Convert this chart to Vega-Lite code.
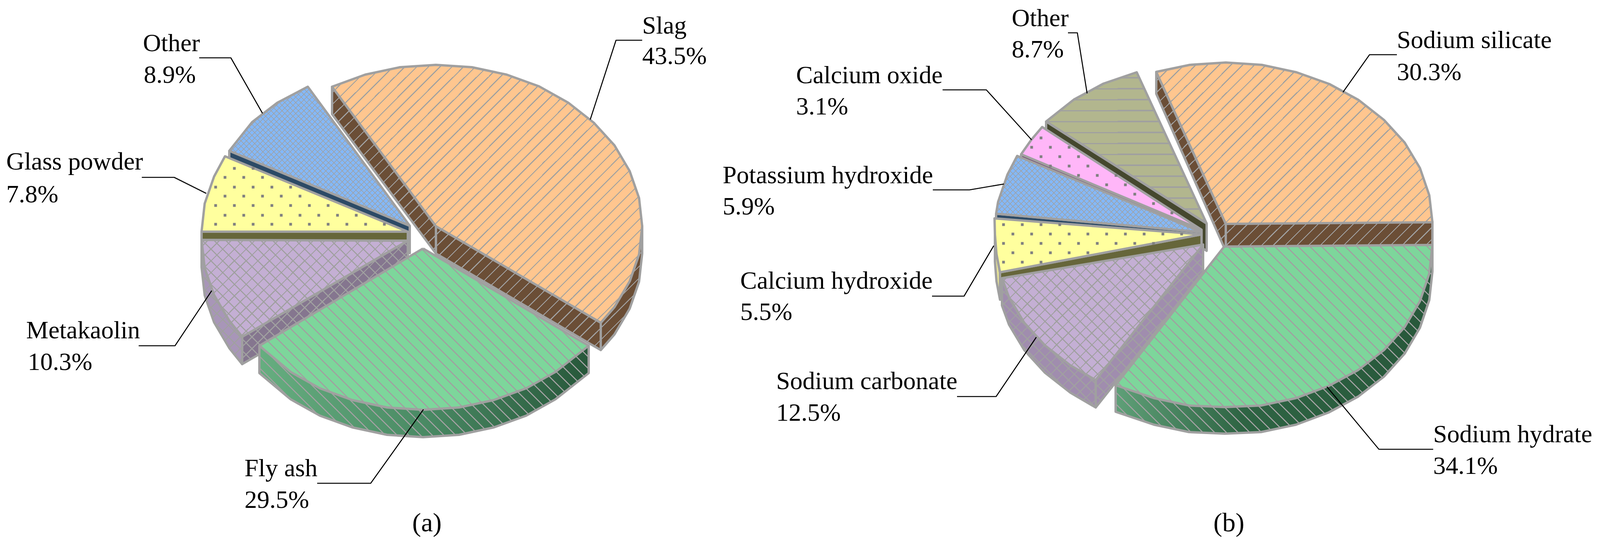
{"$schema":"https://vega.github.io/schema/vega-lite/v6.json","width":4103,"height":1395,"padding":0,"autosize":{"type":"none"},"background":"white","view":{"stroke":null},"config":{"line":{"stroke":"#A0A0A0","strokeWidth":6,"strokeJoin":"round"},"text":{"font":"Liberation Serif","fontSize":64,"align":"left","baseline":"alphabetic","fill":"black"}},
"params":[{"name":"st","value":[
{"offset":0.14,"color":"#a0a0a000"},{"offset":0.14,"color":"#a0a0a0"},{"offset":0.1416,"color":"#a0a0a0"},{"offset":0.1416,"color":"#a0a0a000"},
{"offset":0.1525,"color":"#a0a0a000"},{"offset":0.1525,"color":"#a0a0a0"},{"offset":0.1541,"color":"#a0a0a0"},{"offset":0.1541,"color":"#a0a0a000"},
{"offset":0.165,"color":"#a0a0a000"},{"offset":0.165,"color":"#a0a0a0"},{"offset":0.1666,"color":"#a0a0a0"},{"offset":0.1666,"color":"#a0a0a000"},
{"offset":0.1775,"color":"#a0a0a000"},{"offset":0.1775,"color":"#a0a0a0"},{"offset":0.1791,"color":"#a0a0a0"},{"offset":0.1791,"color":"#a0a0a000"},
{"offset":0.19,"color":"#a0a0a000"},{"offset":0.19,"color":"#a0a0a0"},{"offset":0.1916,"color":"#a0a0a0"},{"offset":0.1916,"color":"#a0a0a000"},
{"offset":0.2025,"color":"#a0a0a000"},{"offset":0.2025,"color":"#a0a0a0"},{"offset":0.2041,"color":"#a0a0a0"},{"offset":0.2041,"color":"#a0a0a000"},
{"offset":0.215,"color":"#a0a0a000"},{"offset":0.215,"color":"#a0a0a0"},{"offset":0.2166,"color":"#a0a0a0"},{"offset":0.2166,"color":"#a0a0a000"},
{"offset":0.2275,"color":"#a0a0a000"},{"offset":0.2275,"color":"#a0a0a0"},{"offset":0.2291,"color":"#a0a0a0"},{"offset":0.2291,"color":"#a0a0a000"},
{"offset":0.24,"color":"#a0a0a000"},{"offset":0.24,"color":"#a0a0a0"},{"offset":0.2416,"color":"#a0a0a0"},{"offset":0.2416,"color":"#a0a0a000"},
{"offset":0.2525,"color":"#a0a0a000"},{"offset":0.2525,"color":"#a0a0a0"},{"offset":0.2541,"color":"#a0a0a0"},{"offset":0.2541,"color":"#a0a0a000"},
{"offset":0.265,"color":"#a0a0a000"},{"offset":0.265,"color":"#a0a0a0"},{"offset":0.2666,"color":"#a0a0a0"},{"offset":0.2666,"color":"#a0a0a000"},
{"offset":0.2775,"color":"#a0a0a000"},{"offset":0.2775,"color":"#a0a0a0"},{"offset":0.2791,"color":"#a0a0a0"},{"offset":0.2791,"color":"#a0a0a000"},
{"offset":0.29,"color":"#a0a0a000"},{"offset":0.29,"color":"#a0a0a0"},{"offset":0.2916,"color":"#a0a0a0"},{"offset":0.2916,"color":"#a0a0a000"},
{"offset":0.3025,"color":"#a0a0a000"},{"offset":0.3025,"color":"#a0a0a0"},{"offset":0.3041,"color":"#a0a0a0"},{"offset":0.3041,"color":"#a0a0a000"},
{"offset":0.315,"color":"#a0a0a000"},{"offset":0.315,"color":"#a0a0a0"},{"offset":0.3166,"color":"#a0a0a0"},{"offset":0.3166,"color":"#a0a0a000"},
{"offset":0.3275,"color":"#a0a0a000"},{"offset":0.3275,"color":"#a0a0a0"},{"offset":0.3291,"color":"#a0a0a0"},{"offset":0.3291,"color":"#a0a0a000"},
{"offset":0.34,"color":"#a0a0a000"},{"offset":0.34,"color":"#a0a0a0"},{"offset":0.3416,"color":"#a0a0a0"},{"offset":0.3416,"color":"#a0a0a000"},
{"offset":0.3525,"color":"#a0a0a000"},{"offset":0.3525,"color":"#a0a0a0"},{"offset":0.3541,"color":"#a0a0a0"},{"offset":0.3541,"color":"#a0a0a000"},
{"offset":0.365,"color":"#a0a0a000"},{"offset":0.365,"color":"#a0a0a0"},{"offset":0.3666,"color":"#a0a0a0"},{"offset":0.3666,"color":"#a0a0a000"},
{"offset":0.3775,"color":"#a0a0a000"},{"offset":0.3775,"color":"#a0a0a0"},{"offset":0.3791,"color":"#a0a0a0"},{"offset":0.3791,"color":"#a0a0a000"},
{"offset":0.39,"color":"#a0a0a000"},{"offset":0.39,"color":"#a0a0a0"},{"offset":0.3916,"color":"#a0a0a0"},{"offset":0.3916,"color":"#a0a0a000"},
{"offset":0.4025,"color":"#a0a0a000"},{"offset":0.4025,"color":"#a0a0a0"},{"offset":0.4041,"color":"#a0a0a0"},{"offset":0.4041,"color":"#a0a0a000"},
{"offset":0.415,"color":"#a0a0a000"},{"offset":0.415,"color":"#a0a0a0"},{"offset":0.4166,"color":"#a0a0a0"},{"offset":0.4166,"color":"#a0a0a000"},
{"offset":0.4275,"color":"#a0a0a000"},{"offset":0.4275,"color":"#a0a0a0"},{"offset":0.4291,"color":"#a0a0a0"},{"offset":0.4291,"color":"#a0a0a000"},
{"offset":0.44,"color":"#a0a0a000"},{"offset":0.44,"color":"#a0a0a0"},{"offset":0.4416,"color":"#a0a0a0"},{"offset":0.4416,"color":"#a0a0a000"},
{"offset":0.4525,"color":"#a0a0a000"},{"offset":0.4525,"color":"#a0a0a0"},{"offset":0.4541,"color":"#a0a0a0"},{"offset":0.4541,"color":"#a0a0a000"},
{"offset":0.465,"color":"#a0a0a000"},{"offset":0.465,"color":"#a0a0a0"},{"offset":0.4666,"color":"#a0a0a0"},{"offset":0.4666,"color":"#a0a0a000"},
{"offset":0.4775,"color":"#a0a0a000"},{"offset":0.4775,"color":"#a0a0a0"},{"offset":0.4791,"color":"#a0a0a0"},{"offset":0.4791,"color":"#a0a0a000"},
{"offset":0.49,"color":"#a0a0a000"},{"offset":0.49,"color":"#a0a0a0"},{"offset":0.4916,"color":"#a0a0a0"},{"offset":0.4916,"color":"#a0a0a000"},
{"offset":0.5025,"color":"#a0a0a000"},{"offset":0.5025,"color":"#a0a0a0"},{"offset":0.5041,"color":"#a0a0a0"},{"offset":0.5041,"color":"#a0a0a000"},
{"offset":0.515,"color":"#a0a0a000"},{"offset":0.515,"color":"#a0a0a0"},{"offset":0.5166,"color":"#a0a0a0"},{"offset":0.5166,"color":"#a0a0a000"},
{"offset":0.5275,"color":"#a0a0a000"},{"offset":0.5275,"color":"#a0a0a0"},{"offset":0.5291,"color":"#a0a0a0"},{"offset":0.5291,"color":"#a0a0a000"},
{"offset":0.54,"color":"#a0a0a000"},{"offset":0.54,"color":"#a0a0a0"},{"offset":0.5416,"color":"#a0a0a0"},{"offset":0.5416,"color":"#a0a0a000"},
{"offset":0.5525,"color":"#a0a0a000"},{"offset":0.5525,"color":"#a0a0a0"},{"offset":0.5541,"color":"#a0a0a0"},{"offset":0.5541,"color":"#a0a0a000"},
{"offset":0.565,"color":"#a0a0a000"},{"offset":0.565,"color":"#a0a0a0"},{"offset":0.5666,"color":"#a0a0a0"},{"offset":0.5666,"color":"#a0a0a000"},
{"offset":0.5775,"color":"#a0a0a000"},{"offset":0.5775,"color":"#a0a0a0"},{"offset":0.5791,"color":"#a0a0a0"},{"offset":0.5791,"color":"#a0a0a000"},
{"offset":0.59,"color":"#a0a0a000"},{"offset":0.59,"color":"#a0a0a0"},{"offset":0.5916,"color":"#a0a0a0"},{"offset":0.5916,"color":"#a0a0a000"},
{"offset":0.6025,"color":"#a0a0a000"},{"offset":0.6025,"color":"#a0a0a0"},{"offset":0.6041,"color":"#a0a0a0"},{"offset":0.6041,"color":"#a0a0a000"},
{"offset":0.615,"color":"#a0a0a000"},{"offset":0.615,"color":"#a0a0a0"},{"offset":0.6166,"color":"#a0a0a0"},{"offset":0.6166,"color":"#a0a0a000"},
{"offset":0.6275,"color":"#a0a0a000"},{"offset":0.6275,"color":"#a0a0a0"},{"offset":0.6291,"color":"#a0a0a0"},{"offset":0.6291,"color":"#a0a0a000"},
{"offset":0.64,"color":"#a0a0a000"},{"offset":0.64,"color":"#a0a0a0"},{"offset":0.6416,"color":"#a0a0a0"},{"offset":0.6416,"color":"#a0a0a000"},
{"offset":0.6525,"color":"#a0a0a000"},{"offset":0.6525,"color":"#a0a0a0"},{"offset":0.6541,"color":"#a0a0a0"},{"offset":0.6541,"color":"#a0a0a000"},
{"offset":0.665,"color":"#a0a0a000"},{"offset":0.665,"color":"#a0a0a0"},{"offset":0.6666,"color":"#a0a0a0"},{"offset":0.6666,"color":"#a0a0a000"},
{"offset":0.6775,"color":"#a0a0a000"},{"offset":0.6775,"color":"#a0a0a0"},{"offset":0.6791,"color":"#a0a0a0"},{"offset":0.6791,"color":"#a0a0a000"},
{"offset":0.69,"color":"#a0a0a000"},{"offset":0.69,"color":"#a0a0a0"},{"offset":0.6916,"color":"#a0a0a0"},{"offset":0.6916,"color":"#a0a0a000"},
{"offset":0.7025,"color":"#a0a0a000"},{"offset":0.7025,"color":"#a0a0a0"},{"offset":0.7041,"color":"#a0a0a0"},{"offset":0.7041,"color":"#a0a0a000"},
{"offset":0.715,"color":"#a0a0a000"},{"offset":0.715,"color":"#a0a0a0"},{"offset":0.7166,"color":"#a0a0a0"},{"offset":0.7166,"color":"#a0a0a000"},
{"offset":0.7275,"color":"#a0a0a000"},{"offset":0.7275,"color":"#a0a0a0"},{"offset":0.7291,"color":"#a0a0a0"},{"offset":0.7291,"color":"#a0a0a000"},
{"offset":0.74,"color":"#a0a0a000"},{"offset":0.74,"color":"#a0a0a0"},{"offset":0.7416,"color":"#a0a0a0"},{"offset":0.7416,"color":"#a0a0a000"},
{"offset":0.7525,"color":"#a0a0a000"},{"offset":0.7525,"color":"#a0a0a0"},{"offset":0.7541,"color":"#a0a0a0"},{"offset":0.7541,"color":"#a0a0a000"},
{"offset":0.765,"color":"#a0a0a000"},{"offset":0.765,"color":"#a0a0a0"},{"offset":0.7666,"color":"#a0a0a0"},{"offset":0.7666,"color":"#a0a0a000"},
{"offset":0.7775,"color":"#a0a0a000"},{"offset":0.7775,"color":"#a0a0a0"},{"offset":0.7791,"color":"#a0a0a0"},{"offset":0.7791,"color":"#a0a0a000"},
{"offset":0.79,"color":"#a0a0a000"},{"offset":0.79,"color":"#a0a0a0"},{"offset":0.7916,"color":"#a0a0a0"},{"offset":0.7916,"color":"#a0a0a000"},
{"offset":0.8025,"color":"#a0a0a000"},{"offset":0.8025,"color":"#a0a0a0"},{"offset":0.8041,"color":"#a0a0a0"},{"offset":0.8041,"color":"#a0a0a000"},
{"offset":0.815,"color":"#a0a0a000"},{"offset":0.815,"color":"#a0a0a0"},{"offset":0.8166,"color":"#a0a0a0"},{"offset":0.8166,"color":"#a0a0a000"},
{"offset":0.8275,"color":"#a0a0a000"},{"offset":0.8275,"color":"#a0a0a0"},{"offset":0.8291,"color":"#a0a0a0"},{"offset":0.8291,"color":"#a0a0a000"},
{"offset":0.84,"color":"#a0a0a000"},{"offset":0.84,"color":"#a0a0a0"},{"offset":0.8416,"color":"#a0a0a0"},{"offset":0.8416,"color":"#a0a0a000"},
{"offset":0.8525,"color":"#a0a0a000"},{"offset":0.8525,"color":"#a0a0a0"},{"offset":0.8541,"color":"#a0a0a0"},{"offset":0.8541,"color":"#a0a0a000"}
]},
{"name":"up","expr":"{gradient:'linear',x1:0,y1:0,x2:1,y2:1,stops:st}"},
{"name":"dn","expr":"{gradient:'linear',x1:1,y1:0,x2:0.0001,y2:1,stops:st}"},
{"name":"hz","expr":"{gradient:'linear',x1:0,y1:0,x2:0.0001,y2:1,stops:st}"}],
"datasets":{"faces":[
{"f":"a1w","x":587,"y":386},{"f":"a1w","x":587,"y":456},{"f":"a1w","x":1049,"y":648},{"f":"a1w","x":1049,"y":578},{"f":"a1w","x":587,"y":386},
{"f":"a1","x":1049,"y":578},{"f":"a1","x":788,"y":222},{"f":"a1","x":710,"y":263},{"f":"a1","x":645,"y":313},{"f":"a1","x":587,"y":386},{"f":"a1","x":1049,"y":578},
{"f":"a2w","x":516,"y":593},{"f":"a2w","x":1044,"y":593},{"f":"a2w","x":1044,"y":663},{"f":"a2w","x":516,"y":663},{"f":"a2w","x":516,"y":593},
{"f":"a2","x":1044,"y":593},{"f":"a2","x":576,"y":400},{"f":"a2","x":548,"y":452},{"f":"a2","x":524,"y":521},{"f":"a2","x":516,"y":593},{"f":"a2","x":1044,"y":593},
{"f":"a3o","x":516,"y":614},{"f":"a3o","x":524,"y":686},{"f":"a3o","x":548,"y":755},{"f":"a3o","x":587,"y":821},{"f":"a3o","x":620,"y":862},{"f":"a3o","x":620,"y":932},{"f":"a3o","x":587,"y":891},{"f":"a3o","x":548,"y":825},{"f":"a3o","x":524,"y":756},{"f":"a3o","x":516,"y":684},{"f":"a3o","x":516,"y":614},
{"f":"a3c","x":1044,"y":616},{"f":"a3c","x":620,"y":862},{"f":"a3c","x":620,"y":932},{"f":"a3c","x":1044,"y":686},{"f":"a3c","x":1044,"y":616},
{"f":"a3","x":1044,"y":616},{"f":"a3","x":516,"y":614},{"f":"a3","x":524,"y":686},{"f":"a3","x":548,"y":755},{"f":"a3","x":587,"y":821},{"f":"a3","x":620,"y":862},{"f":"a3","x":1044,"y":616},
{"f":"a4w","x":850,"y":222},{"f":"a4w","x":850,"y":292},{"f":"a4w","x":1116,"y":649},{"f":"a4w","x":1116,"y":579},{"f":"a4w","x":1116,"y":649},{"f":"a4w","x":1538,"y":896},{"f":"a4w","x":1538,"y":826},{"f":"a4w","x":1538,"y":896},{"f":"a4w","x":1573,"y":856},{"f":"a4w","x":1612,"y":790},{"f":"a4w","x":1636,"y":721},{"f":"a4w","x":1644,"y":649},{"f":"a4w","x":1644,"y":579},{"f":"a4w","x":1636,"y":651},{"f":"a4w","x":1612,"y":720},{"f":"a4w","x":1573,"y":786},{"f":"a4w","x":1538,"y":826},{"f":"a4w","x":1116,"y":579},{"f":"a4w","x":850,"y":222},
{"f":"a4","x":1116,"y":579},{"f":"a4","x":850,"y":222},{"f":"a4","x":935,"y":191},{"f":"a4","x":1024,"y":172},{"f":"a4","x":1116,"y":166},{"f":"a4","x":1208,"y":172},{"f":"a4","x":1297,"y":191},{"f":"a4","x":1380,"y":221},{"f":"a4","x":1455,"y":263},{"f":"a4","x":1520,"y":314},{"f":"a4","x":1573,"y":372},{"f":"a4","x":1612,"y":438},{"f":"a4","x":1636,"y":507},{"f":"a4","x":1644,"y":579},{"f":"a4","x":1636,"y":651},{"f":"a4","x":1612,"y":720},{"f":"a4","x":1573,"y":786},{"f":"a4","x":1538,"y":826},{"f":"a4","x":1116,"y":579},
{"f":"a5w","x":664,"y":885},{"f":"a5w","x":664,"y":955},{"f":"a5w","x":744,"y":1022},{"f":"a5w","x":819,"y":1064},{"f":"a5w","x":902,"y":1094},{"f":"a5w","x":991,"y":1113},{"f":"a5w","x":1083,"y":1119},{"f":"a5w","x":1175,"y":1113},{"f":"a5w","x":1264,"y":1094},{"f":"a5w","x":1347,"y":1064},{"f":"a5w","x":1422,"y":1022},{"f":"a5w","x":1507,"y":955},{"f":"a5w","x":1507,"y":885},{"f":"a5w","x":664,"y":885},
{"f":"a5","x":1083,"y":636},{"f":"a5","x":1507,"y":885},{"f":"a5","x":1422,"y":952},{"f":"a5","x":1347,"y":994},{"f":"a5","x":1264,"y":1024},{"f":"a5","x":1175,"y":1043},{"f":"a5","x":1083,"y":1049},{"f":"a5","x":991,"y":1043},{"f":"a5","x":902,"y":1024},{"f":"a5","x":819,"y":994},{"f":"a5","x":744,"y":952},{"f":"a5","x":664,"y":885},{"f":"a5","x":1083,"y":636},
{"f":"b1w","x":2678,"y":311},{"f":"b1w","x":2678,"y":381},{"f":"b1w","x":3089,"y":642},{"f":"b1w","x":3089,"y":572},{"f":"b1w","x":2678,"y":311},
{"f":"b1","x":3089,"y":572},{"f":"b1","x":2910,"y":185},{"f":"b1","x":2825,"y":214},{"f":"b1","x":2749,"y":255},{"f":"b1","x":2678,"y":311},{"f":"b1","x":3089,"y":572},
{"f":"b2w","x":2614,"y":395},{"f":"b2w","x":2614,"y":465},{"f":"b2w","x":3076,"y":658},{"f":"b2w","x":3076,"y":588},{"f":"b2w","x":2614,"y":395},
{"f":"b2","x":3076,"y":588},{"f":"b2","x":2668,"y":325},{"f":"b2","x":2640,"y":358},{"f":"b2","x":2614,"y":395},{"f":"b2","x":3076,"y":588},
{"f":"b3w","x":2550,"y":547},{"f":"b3w","x":2550,"y":617},{"f":"b3w","x":3076,"y":664},{"f":"b3w","x":3076,"y":594},{"f":"b3w","x":2550,"y":547},
{"f":"b3","x":3076,"y":594},{"f":"b3","x":2604,"y":399},{"f":"b3","x":2579,"y":447},{"f":"b3","x":2555,"y":517},{"f":"b3","x":2550,"y":547},{"f":"b3","x":3076,"y":594},
{"f":"b4o","x":2547,"y":600},{"f":"b4o","x":2551,"y":650},{"f":"b4o","x":2560,"y":697},{"f":"b4o","x":2560,"y":767},{"f":"b4o","x":2551,"y":720},{"f":"b4o","x":2547,"y":670},{"f":"b4o","x":2547,"y":600},
{"f":"b4c","x":2560,"y":697},{"f":"b4c","x":3076,"y":600},{"f":"b4c","x":3076,"y":670},{"f":"b4c","x":2560,"y":767},{"f":"b4c","x":2560,"y":697},
{"f":"b4","x":3076,"y":600},{"f":"b4","x":2546,"y":559},{"f":"b4","x":2547,"y":600},{"f":"b4","x":2551,"y":650},{"f":"b4","x":2560,"y":697},{"f":"b4","x":3076,"y":600},
{"f":"b5w","x":2565,"y":712},{"f":"b5w","x":2565,"y":782},{"f":"b5w","x":2583,"y":831},{"f":"b5w","x":2622,"y":896},{"f":"b5w","x":2675,"y":954},{"f":"b5w","x":2740,"y":1005},{"f":"b5w","x":2805,"y":1043},{"f":"b5w","x":3080,"y":696},{"f":"b5w","x":3080,"y":626},{"f":"b5w","x":2805,"y":973},{"f":"b5w","x":2805,"y":1043},{"f":"b5w","x":2805,"y":973},{"f":"b5w","x":2740,"y":935},{"f":"b5w","x":2675,"y":884},{"f":"b5w","x":2622,"y":826},{"f":"b5w","x":2583,"y":761},{"f":"b5w","x":2565,"y":712},
{"f":"b5","x":3080,"y":626},{"f":"b5","x":2565,"y":712},{"f":"b5","x":2583,"y":761},{"f":"b5","x":2622,"y":826},{"f":"b5","x":2675,"y":884},{"f":"b5","x":2740,"y":935},{"f":"b5","x":2805,"y":973},{"f":"b5","x":3080,"y":626},
{"f":"b6w","x":2960,"y":184},{"f":"b6w","x":2960,"y":240},{"f":"b6w","x":3138,"y":643},{"f":"b6w","x":3138,"y":573},{"f":"b6w","x":3138,"y":643},{"f":"b6w","x":3667,"y":638},{"f":"b6w","x":3667,"y":568},{"f":"b6w","x":3138,"y":573},{"f":"b6w","x":2960,"y":184},
{"f":"b6","x":3138,"y":573},{"f":"b6","x":2960,"y":184},{"f":"b6","x":3046,"y":166},{"f":"b6","x":3138,"y":160},{"f":"b6","x":3230,"y":166},{"f":"b6","x":3319,"y":185},{"f":"b6","x":3403,"y":215},{"f":"b6","x":3478,"y":256},{"f":"b6","x":3543,"y":307},{"f":"b6","x":3596,"y":365},{"f":"b6","x":3635,"y":430},{"f":"b6","x":3659,"y":500},{"f":"b6","x":3667,"y":569},{"f":"b6","x":3138,"y":573},
{"f":"b7w","x":2856,"y":986},{"f":"b7w","x":2856,"y":1054},{"f":"b7w","x":2954,"y":1087},{"f":"b7w","x":3044,"y":1106},{"f":"b7w","x":3136,"y":1110},{"f":"b7w","x":3228,"y":1106},{"f":"b7w","x":3318,"y":1087},{"f":"b7w","x":3401,"y":1056},{"f":"b7w","x":3477,"y":1015},{"f":"b7w","x":3543,"y":964},{"f":"b7w","x":3596,"y":905},{"f":"b7w","x":3635,"y":839},{"f":"b7w","x":3659,"y":768},{"f":"b7w","x":3667,"y":695},{"f":"b7w","x":3667,"y":627},{"f":"b7w","x":2856,"y":986},
{"f":"b7","x":3134,"y":631},{"f":"b7","x":3667,"y":627},{"f":"b7","x":3659,"y":700},{"f":"b7","x":3635,"y":771},{"f":"b7","x":3596,"y":837},{"f":"b7","x":3543,"y":896},{"f":"b7","x":3477,"y":947},{"f":"b7","x":3401,"y":988},{"f":"b7","x":3318,"y":1019},{"f":"b7","x":3228,"y":1038},{"f":"b7","x":3136,"y":1042},{"f":"b7","x":3044,"y":1038},{"f":"b7","x":2954,"y":1019},{"f":"b7","x":2856,"y":986},{"f":"b7","x":3134,"y":631},
{"f":"A","x":480,"y":60},{"f":"A","x":1680,"y":1260},{"f":"A","x":480,"y":60},
{"f":"B","x":2510,"y":20},{"f":"B","x":3710,"y":1220},{"f":"B","x":2510,"y":20},
{"f":"C","x":540,"y":140},{"f":"C","x":1100,"y":700},{"f":"C","x":540,"y":140},
{"f":"D","x":2530,"y":210},{"f":"D","x":3090,"y":770},{"f":"D","x":2530,"y":210},
{"f":"E","x":2900,"y":-200},{"f":"E","x":2900,"y":2040},{"f":"E","x":2900,"y":-200}
],
"dots":[
{"x":600,"y":431},{"x":648,"y":431},{"x":576,"y":454},{"x":624,"y":454},{"x":672,"y":454},
{"x":552,"y":479},{"x":600,"y":479},{"x":648,"y":479},{"x":696,"y":479},{"x":744,"y":479},
{"x":576,"y":502},{"x":624,"y":502},{"x":672,"y":502},{"x":720,"y":502},{"x":768,"y":502},
{"x":552,"y":526},{"x":600,"y":526},{"x":648,"y":526},{"x":696,"y":526},{"x":744,"y":526},{"x":792,"y":526},{"x":840,"y":526},
{"x":576,"y":551},{"x":624,"y":551},{"x":672,"y":551},{"x":720,"y":551},{"x":768,"y":551},{"x":816,"y":551},{"x":864,"y":551},{"x":912,"y":551},
{"x":552,"y":574},{"x":600,"y":574},{"x":648,"y":574},{"x":696,"y":574},{"x":744,"y":574},{"x":792,"y":574},{"x":840,"y":574},{"x":888,"y":574},{"x":936,"y":574},{"x":984,"y":574},
{"x":2569,"y":575},{"x":2617,"y":575},{"x":2665,"y":575},{"x":2713,"y":575},
{"x":2593,"y":599},{"x":2641,"y":599},{"x":2689,"y":599},{"x":2737,"y":599},{"x":2785,"y":599},{"x":2833,"y":599},{"x":2881,"y":599},{"x":2929,"y":599},{"x":2977,"y":599},{"x":3025,"y":599},
{"x":2569,"y":623},{"x":2617,"y":623},{"x":2665,"y":623},{"x":2713,"y":623},{"x":2761,"y":623},{"x":2809,"y":623},{"x":2857,"y":623},{"x":2905,"y":623},{"x":2953,"y":623},
{"x":2593,"y":647},{"x":2641,"y":647},{"x":2689,"y":647},{"x":2737,"y":647},{"x":2785,"y":647},
{"x":2569,"y":671},{"x":2617,"y":671},{"x":2665,"y":671},
{"x":2665,"y":353},{"x":2641,"y":377},{"x":2689,"y":377},{"x":2737,"y":377},{"x":2665,"y":401},{"x":2713,"y":401},{"x":2761,"y":401},{"x":2689,"y":425},{"x":2737,"y":425},{"x":2785,"y":425},{"x":2761,"y":449},{"x":2809,"y":449},{"x":2857,"y":449},{"x":2833,"y":473},{"x":2881,"y":473},{"x":2905,"y":497},{"x":2953,"y":521},{"x":3000,"y":545}
],
"leaders":[
{"l":"slag","x":1644,"y":103},{"l":"slag","x":1577,"y":103},{"l":"slag","x":1511,"y":306},
{"l":"otha","x":510,"y":148},{"l":"otha","x":591,"y":148},{"l":"otha","x":672,"y":290},
{"l":"glass","x":363,"y":454},{"l":"glass","x":446,"y":454},{"l":"glass","x":528,"y":495},
{"l":"meta","x":355,"y":885},{"l":"meta","x":448,"y":885},{"l":"meta","x":542,"y":744},
{"l":"fly","x":812,"y":1237},{"l":"fly","x":949,"y":1237},{"l":"fly","x":1084,"y":1048},
{"l":"sil","x":3576,"y":140},{"l":"sil","x":3506,"y":140},{"l":"sil","x":3438,"y":236},
{"l":"othb","x":2734,"y":84},{"l":"othb","x":2758,"y":84},{"l":"othb","x":2783,"y":239},
{"l":"cao","x":2413,"y":230},{"l":"cao","x":2525,"y":230},{"l":"cao","x":2641,"y":358},
{"l":"koh","x":2388,"y":486},{"l":"koh","x":2482,"y":486},{"l":"koh","x":2570,"y":471},
{"l":"caoh","x":2386,"y":758},{"l":"caoh","x":2468,"y":758},{"l":"caoh","x":2544,"y":629},
{"l":"carb","x":2450,"y":1015},{"l":"carb","x":2550,"y":1015},{"l":"carb","x":2653,"y":863},
{"l":"hyd","x":3669,"y":1150},{"l":"hyd","x":3530,"y":1150},{"l":"hyd","x":3397,"y":990}
],
"notes":[
{"t":"Slag","x":1644,"y":86},{"t":"43.5%","x":1644,"y":164},
{"t":"Other","x":366,"y":131},{"t":"8.9%","x":368,"y":212},
{"t":"Glass powder","x":16,"y":434},{"t":"7.8%","x":16,"y":518},
{"t":"Metakaolin","x":67,"y":866},{"t":"10.3%","x":71,"y":947},
{"t":"Fly ash","x":626,"y":1219},{"t":"29.5%","x":626,"y":1300},
{"t":"Sodium silicate","x":3576,"y":123},{"t":"30.3%","x":3576,"y":205},
{"t":"Other","x":2590,"y":67},{"t":"8.7%","x":2590,"y":147},
{"t":"Calcium oxide","x":2038,"y":213},{"t":"3.1%","x":2038,"y":293},
{"t":"Potassium hydroxide","x":1850,"y":469},{"t":"5.9%","x":1850,"y":549},
{"t":"Calcium hydroxide","x":1895,"y":739},{"t":"5.5%","x":1895,"y":819},
{"t":"Sodium carbonate","x":1987,"y":996},{"t":"12.5%","x":1987,"y":1077},
{"t":"Sodium hydrate","x":3669,"y":1132},{"t":"34.1%","x":3669,"y":1213}
],
"captions":[{"t":"(a)","x":1093,"y":1360},{"t":"(b)","x":3146,"y":1360}]},
"data":{"name":"faces"},
"encoding":{"x":{"field":"x","type":"quantitative","scale":{"domain":[0,4103],"nice":false,"zero":false},"axis":null},"y":{"field":"y","type":"quantitative","scale":{"domain":[1395,0],"nice":false,"zero":false},"axis":null},"order":{"value":null}},
"layer":[
{"transform":[{"filter":"datum.f=='a1w'"}],"mark":{"type":"line","fill":"#2C4A66"}},
{"transform":[{"filter":"datum.f=='a1'"}],"mark":{"type":"line","fill":"#84B8F8"}},
{"transform":[{"filter":"datum.f=='a1'||datum.f=='C'"}],"mark":{"type":"line","fill":{"expr":"up"},"strokeWidth":0}},
{"transform":[{"filter":"datum.f=='a1'||datum.f=='C'"}],"mark":{"type":"line","fill":{"expr":"dn"},"strokeWidth":0}},
{"transform":[{"filter":"datum.f=='a2w'"}],"mark":{"type":"line","fill":"#66663A"}},
{"transform":[{"filter":"datum.f=='a2'"}],"mark":{"type":"line","fill":"#FFFF9E"}},
{"transform":[{"filter":"datum.f=='a3o'"}],"mark":{"type":"line","fill":"#A896B8"}},
{"transform":[{"filter":"datum.f=='a3o'||datum.f=='A'"}],"mark":{"type":"line","fill":{"expr":"up"},"strokeWidth":0}},
{"transform":[{"filter":"datum.f=='a3o'||datum.f=='A'"}],"mark":{"type":"line","fill":{"expr":"dn"},"strokeWidth":0}},
{"transform":[{"filter":"datum.f=='a3c'"}],"mark":{"type":"line","fill":"#85768F"}},
{"transform":[{"filter":"datum.f=='a3c'||datum.f=='A'"}],"mark":{"type":"line","fill":{"expr":"up"},"strokeWidth":0}},
{"transform":[{"filter":"datum.f=='a3c'||datum.f=='A'"}],"mark":{"type":"line","fill":{"expr":"dn"},"strokeWidth":0}},
{"transform":[{"filter":"datum.f=='a3'"}],"mark":{"type":"line","fill":"#C4AFD4"}},
{"transform":[{"filter":"datum.f=='a3'||datum.f=='A'"}],"mark":{"type":"line","fill":{"expr":"up"},"strokeWidth":0}},
{"transform":[{"filter":"datum.f=='a3'||datum.f=='A'"}],"mark":{"type":"line","fill":{"expr":"dn"},"strokeWidth":0}},
{"transform":[{"filter":"datum.f=='a4w'"}],"mark":{"type":"line","fill":"#6B4E36"}},
{"transform":[{"filter":"datum.f=='a4w'||datum.f=='A'"}],"mark":{"type":"line","fill":{"expr":"up"},"strokeWidth":0}},
{"transform":[{"filter":"datum.f=='a4'"}],"mark":{"type":"line","fill":"#FFC68F"}},
{"transform":[{"filter":"datum.f=='a4'||datum.f=='A'"}],"mark":{"type":"line","fill":{"expr":"up"},"strokeWidth":0}},
{"transform":[{"filter":"datum.f=='a5w'"}],"mark":{"type":"line","fill":{"gradient":"linear","x1":0,"y1":0,"x2":1,"y2":0,"stops":[{"offset":0,"color":"#66AE80"},{"offset":0.5,"color":"#4A8A64"},{"offset":1,"color":"#27573A"}]}}},
{"transform":[{"filter":"datum.f=='a5w'||datum.f=='A'"}],"mark":{"type":"line","fill":{"expr":"dn"},"strokeWidth":0}},
{"transform":[{"filter":"datum.f=='a5'"}],"mark":{"type":"line","fill":"#7DD69B"}},
{"transform":[{"filter":"datum.f=='a5'||datum.f=='A'"}],"mark":{"type":"line","fill":{"expr":"dn"},"strokeWidth":0}},
{"transform":[{"filter":"datum.f=='b1w'"}],"mark":{"type":"line","fill":"#45482E"}},
{"transform":[{"filter":"datum.f=='b1'"}],"mark":{"type":"line","fill":"#B2B68E"}},
{"transform":[{"filter":"datum.f=='b1'||datum.f=='E'"}],"mark":{"type":"line","fill":{"expr":"hz"},"strokeWidth":0}},
{"transform":[{"filter":"datum.f=='b2w'"}],"mark":{"type":"line","fill":"#6B3A68"}},
{"transform":[{"filter":"datum.f=='b2'"}],"mark":{"type":"line","fill":"#FFB6F8"}},
{"transform":[{"filter":"datum.f=='b3w'"}],"mark":{"type":"line","fill":"#2C4A66"}},
{"transform":[{"filter":"datum.f=='b3'"}],"mark":{"type":"line","fill":"#84B8F8"}},
{"transform":[{"filter":"datum.f=='b3'||datum.f=='D'"}],"mark":{"type":"line","fill":{"expr":"up"},"strokeWidth":0}},
{"transform":[{"filter":"datum.f=='b3'||datum.f=='D'"}],"mark":{"type":"line","fill":{"expr":"dn"},"strokeWidth":0}},
{"transform":[{"filter":"datum.f=='b4o'"}],"mark":{"type":"line","fill":"#E6E296"}},
{"transform":[{"filter":"datum.f=='b4c'"}],"mark":{"type":"line","fill":"#66663A"}},
{"transform":[{"filter":"datum.f=='b4'"}],"mark":{"type":"line","fill":"#FFFF9E"}},
{"transform":[{"filter":"datum.f=='b5w'"}],"mark":{"type":"line","fill":"#A08DAE"}},
{"transform":[{"filter":"datum.f=='b5w'||datum.f=='B'"}],"mark":{"type":"line","fill":{"expr":"up"},"strokeWidth":0}},
{"transform":[{"filter":"datum.f=='b5w'||datum.f=='B'"}],"mark":{"type":"line","fill":{"expr":"dn"},"strokeWidth":0}},
{"transform":[{"filter":"datum.f=='b5'"}],"mark":{"type":"line","fill":"#C4AFD4"}},
{"transform":[{"filter":"datum.f=='b5'||datum.f=='B'"}],"mark":{"type":"line","fill":{"expr":"up"},"strokeWidth":0}},
{"transform":[{"filter":"datum.f=='b5'||datum.f=='B'"}],"mark":{"type":"line","fill":{"expr":"dn"},"strokeWidth":0}},
{"transform":[{"filter":"datum.f=='b6w'"}],"mark":{"type":"line","fill":"#6B4E36"}},
{"transform":[{"filter":"datum.f=='b6w'||datum.f=='B'"}],"mark":{"type":"line","fill":{"expr":"up"},"strokeWidth":0}},
{"transform":[{"filter":"datum.f=='b6'"}],"mark":{"type":"line","fill":"#FFC68F"}},
{"transform":[{"filter":"datum.f=='b6'||datum.f=='B'"}],"mark":{"type":"line","fill":{"expr":"up"},"strokeWidth":0}},
{"transform":[{"filter":"datum.f=='b7w'"}],"mark":{"type":"line","fill":{"gradient":"linear","x1":0,"y1":0,"x2":1,"y2":0,"stops":[{"offset":0,"color":"#5FA078"},{"offset":0.4,"color":"#2E6443"},{"offset":1,"color":"#27573A"}]}}},
{"transform":[{"filter":"datum.f=='b7w'||datum.f=='B'"}],"mark":{"type":"line","fill":{"expr":"dn"},"strokeWidth":0}},
{"transform":[{"filter":"datum.f=='b7'"}],"mark":{"type":"line","fill":"#7DD69B"}},
{"transform":[{"filter":"datum.f=='b7'||datum.f=='B'"}],"mark":{"type":"line","fill":{"expr":"dn"},"strokeWidth":0}},
{"data":{"name":"dots"},"mark":{"type":"point","shape":"square","filled":true,"size":49,"color":"#808080","opacity":1}},
{"data":{"name":"leaders"},"mark":{"type":"line","stroke":"black","strokeWidth":2.6},"encoding":{"detail":{"field":"l"}}},
{"data":{"name":"notes"},"mark":{"type":"text"},"encoding":{"text":{"field":"t"}}},
{"data":{"name":"captions"},"mark":{"type":"text","align":"center","fontSize":68},"encoding":{"text":{"field":"t"}}}
]}
